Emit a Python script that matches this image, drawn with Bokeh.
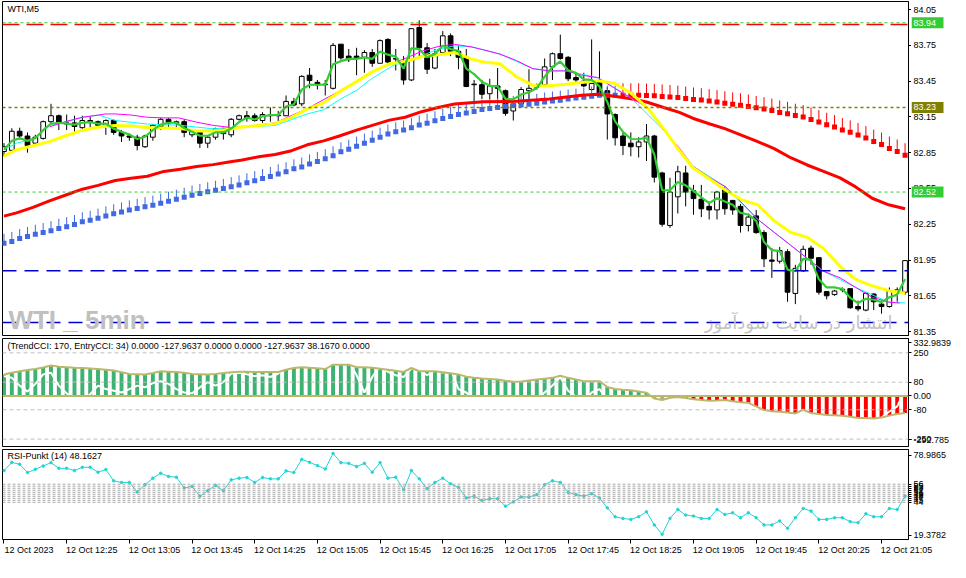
import numpy as np
from bokeh.plotting import figure
from bokeh.models import (Range1d, Span, Label, FixedTicker, ColumnDataSource, LinearAxis)
from bokeh.layouts import column, row
from bokeh.embed import file_html
from bokeh.resources import INLINE
from bokeh.core.properties import value

# ---------------- data ----------------
opens = [82.86, 82.87, 83.03, 82.99, 82.93, 82.97, 83.11, 83.16, 83.10, 83.10,
         83.06, 83.12, 83.11, 83.08, 83.12, 83.02, 82.99, 82.98, 82.90, 82.98,
         83.07, 83.13, 83.10, 83.11, 83.00, 83.02, 82.93, 82.98, 83.05, 83.00,
         83.13, 83.16, 83.16, 83.12, 83.16, 83.16, 83.16, 83.28, 83.26, 83.50,
         83.44, 83.42, 83.39, 83.76, 83.66, 83.66, 83.65, 83.69, 83.60, 83.80,
         83.64, 83.61, 83.46, 83.90, 83.73, 83.56, 83.69, 83.83, 83.70, 83.65,
         83.42, 83.42, 83.345, 83.41, 83.37, 83.20, 83.26, 83.37, 83.40, 83.42,
         83.57, 83.68, 83.65, 83.48, 83.45, 83.38, 83.45, 83.37, 83.17, 82.99,
         82.93, 82.90, 82.94, 82.99, 82.68, 82.24, 82.48, 82.68, 82.53, 82.46,
         82.40, 82.37, 82.54, 82.45, 82.40, 82.24, 82.32, 82.18, 81.95, 81.94,
         82.02, 81.67, 81.86, 82.05, 81.97, 81.685, 81.66, 81.70, 81.71, 81.56,
         81.53, 81.665, 81.58, 81.56, 81.68, 81.68]
highs = [82.93, 83.055, 83.06, 83.02, 83.00, 83.12, 83.26, 83.17, 83.17, 83.16,
         83.16, 83.15, 83.12, 83.13, 83.13, 83.04, 83.01, 83.00, 83.00, 83.09,
         83.14, 83.14, 83.12, 83.13, 83.04, 83.04, 82.99, 83.06, 83.06, 83.14,
         83.17, 83.20, 83.18, 83.19, 83.23, 83.20, 83.33, 83.31, 83.50, 83.56,
         83.46, 83.46, 83.77, 83.76, 83.72, 83.73, 83.71, 83.72, 83.80, 83.81,
         83.72, 83.66, 83.89, 83.96, 83.77, 83.72, 83.87, 83.85, 83.75, 83.72,
         83.46, 83.46, 83.47, 83.56, 83.38, 83.29, 83.40, 83.55, 83.43, 83.64,
         83.69, 83.84, 83.66, 83.52, 83.52, 83.80, 83.70, 83.40, 83.18, 83.02,
         83.02, 82.98, 83.09, 83.00, 82.69, 82.64, 82.74, 82.74, 82.58, 82.58,
         82.44, 82.53, 82.57, 82.45, 82.42, 82.34, 82.37, 82.20, 82.05, 82.06,
         82.04, 81.91, 82.07, 82.07, 81.97, 81.69, 81.70, 81.72, 81.71, 81.61,
         81.68, 81.67, 81.61, 81.72, 81.72, 81.95]
lows = [82.82, 82.86, 82.96, 82.85, 82.92, 82.96, 83.10, 83.04, 83.04, 83.01,
        83.03, 83.05, 83.06, 83.00, 83.00, 82.94, 82.95, 82.87, 82.89, 82.95,
        83.04, 83.06, 83.05, 82.98, 82.98, 82.89, 82.89, 82.96, 82.96, 82.98,
        83.12, 83.11, 83.11, 83.10, 83.11, 83.10, 83.16, 83.24, 83.24, 83.39,
        83.38, 83.33, 83.38, 83.63, 83.61, 83.50, 83.52, 83.57, 83.60, 83.60,
        83.54, 83.42, 83.45, 83.65, 83.51, 83.55, 83.67, 83.66, 83.55, 83.40,
        83.28, 83.30, 83.30, 83.30, 83.16, 83.12, 83.24, 83.28, 83.38, 83.41,
        83.46, 83.63, 83.45, 83.43, 83.40, 83.37, 83.33, 82.96, 82.91, 82.83,
        82.82, 82.81, 82.78, 82.60, 82.23, 82.22, 82.34, 82.40, 82.33, 82.31,
        82.29, 82.29, 82.33, 82.33, 82.18, 82.19, 82.17, 81.89, 81.80, 81.92,
        81.60, 81.58, 81.85, 81.91, 81.66, 81.62, 81.65, 81.68, 81.54, 81.52,
        81.52, 81.53, 81.50, 81.55, 81.60, 81.66]
closes = [82.90, 83.03, 82.99, 82.91, 82.98, 83.11, 83.16, 83.10, 83.09, 83.07,
          83.12, 83.11, 83.08, 83.12, 83.02, 82.99, 82.98, 82.91, 82.99, 83.08,
          83.13, 83.10, 83.11, 83.02, 83.03, 82.93, 82.98, 83.05, 83.01, 83.13,
          83.16, 83.14, 83.12, 83.17, 83.165, 83.165, 83.28, 83.25, 83.49, 83.455,
          83.42, 83.425, 83.75, 83.645, 83.63, 83.64, 83.69, 83.60, 83.79, 83.61,
          83.635, 83.46, 83.89, 83.73, 83.55, 83.68, 83.83, 83.70, 83.65, 83.405,
          83.425, 83.34, 83.41, 83.39, 83.18, 83.26, 83.38, 83.39, 83.41, 83.57,
          83.68, 83.64, 83.47, 83.46, 83.41, 83.43, 83.35, 83.175, 82.975, 82.91,
          82.90, 82.94, 82.99, 82.645, 82.25, 82.52, 82.69, 82.52, 82.465, 82.38,
          82.37, 82.52, 82.38, 82.37, 82.24, 82.31, 82.18, 81.96, 81.94, 82.03,
          81.68, 81.88, 82.04, 81.965, 81.68, 81.65, 81.69, 81.705, 81.55, 81.54,
          81.67, 81.60, 81.56, 81.69, 81.70, 81.945]

# fast green average, one reading per candle
green_ma = [82.875, 82.949, 82.971, 82.949, 82.971, 83.039, 83.093, 83.101, 83.093, 83.085,
            83.101, 83.106, 83.093, 83.093, 83.052, 83.025, 83.003, 82.965, 82.984, 83.039,
            83.085, 83.101, 83.101, 83.057, 83.025, 82.992, 82.992, 83.02, 83.02, 83.052,
            83.106, 83.145, 83.128, 83.155, 83.166, 83.166, 83.237, 83.256, 83.379, 83.42,
            83.42, 83.42, 83.591, 83.618, 83.637, 83.637, 83.65, 83.637, 83.699, 83.672,
            83.656, 83.555, 83.726, 83.718, 83.65, 83.677, 83.746, 83.718, 83.705, 83.555,
            83.509, 83.446, 83.411, 83.406, 83.302, 83.297, 83.338, 83.357, 83.392, 83.487,
            83.569, 83.615, 83.542, 83.52, 83.465, 83.46, 83.406, 83.275, 83.112, 83.025,
            82.965, 82.963, 82.976, 82.835, 82.535, 82.535, 82.604, 82.576, 82.531, 82.476,
            82.427, 82.468, 82.44, 82.413, 82.345, 82.332, 82.278, 82.101, 82.033, 82.025,
            81.87, 81.856, 81.96, 81.951, 81.788, 81.72, 81.72, 81.707, 81.633, 81.589,
            81.625, 81.617, 81.597, 81.638, 81.66, 81.788]

# slow red average (candle position, price)
red_ma_x = [0, 1.6, 3.7, 5.8, 7.9, 10, 12, 14.2, 16.2, 18.3, 20.4, 22.5, 24.6, 26.7, 28.7,
            30.4, 32.5, 34.6, 36.7, 38.7, 40.8, 42.9, 45, 47, 49.2, 51.2, 53.3, 55.4, 57.5,
            61.2, 65.4, 69.6, 73.7, 75.8, 77.9, 80, 82, 84.2, 86.2,
            87.9, 90, 92, 94.1, 96.2, 98.3, 100.4, 102.5, 104.6, 106.7, 108.7, 110.8, 112.9, 115]
red_ma_y = [82.318, 82.345, 82.392, 82.446, 82.495, 82.544, 82.576, 82.617, 82.636, 82.652,
            82.693, 82.712, 82.734, 82.75, 82.772,
            82.788, 82.816, 82.835, 82.867, 82.916, 82.949, 82.992, 83.039, 83.079, 83.123,
            83.147, 83.194, 83.229, 83.259,
            83.278, 83.281, 83.30, 83.332, 83.34, 83.324, 83.302, 83.275, 83.229, 83.188,
            83.139, 83.093, 83.052, 82.998, 82.943, 82.884, 82.808, 82.747, 82.693, 82.639,
            82.563, 82.468, 82.413, 82.38]

yellow_ma_x = [0, 1.6, 3.7, 5.8, 7.9, 10, 12.1, 14.2, 16.2, 18.3, 20.4, 22.5, 24.6, 26.7, 28.7,
               30.4, 32.5, 34.6, 36.7, 38.7, 40.8, 42.9, 45, 47, 49.2, 51.2, 53.3, 55.4, 57.5,
               59.6, 61.2, 63.3, 65.4, 67.5, 69.6, 71.7, 73.7, 75.8, 77.9, 80, 82.1, 84.2,
               85.8, 87.9, 90, 92.1, 94.2, 96.2, 98.3, 100.4, 102.5, 104.6, 106.7, 108.7,
               110.8, 112.9, 115]
yellow_ma_y = [82.821, 82.875, 82.908, 82.943, 82.992, 83.039, 83.066, 83.079, 83.074, 83.061,
               83.057, 83.052, 83.033, 83.033, 83.044,
               83.066, 83.079, 83.093, 83.147, 83.216, 83.27, 83.365, 83.446, 83.528, 83.596,
               83.615, 83.656, 83.672, 83.691,
               83.637, 83.61, 83.596, 83.487, 83.414, 83.411, 83.424, 83.438, 83.454, 83.433,
               83.35, 83.229, 83.052,
               82.902, 82.726, 82.631, 82.535, 82.454, 82.413, 82.278, 82.182, 82.141, 82.046,
               81.897, 81.788, 81.734, 81.693, 81.671]

magenta_ma_x = [5.8, 7.9, 10, 12.1, 12.9, 14.2, 16.2, 18.3, 20.4, 22.3, 24.6, 26.7, 29,
                30.4, 34.6, 38.7, 42.9, 47, 51.2, 53.3, 55.4, 57.5,
                59.6, 61.2, 63.3, 65.4, 67.5, 69.6, 71.7, 73.7, 75.8, 77.9, 80, 82.1, 84.2, 86.2,
                87.9, 90, 92.1, 94.2, 96.2, 98.3, 100.4, 102.5, 104.6, 106.7, 108.7, 110.8,
                112.9, 114.3]
magenta_ma_y = [83.066, 83.112, 83.147, 83.166, 83.175, 83.175, 83.166, 83.147, 83.142, 83.142,
                83.106, 83.079, 83.061,
                83.066, 83.10, 83.22, 83.37, 83.53, 83.64, 83.70, 83.74, 83.759,
                83.738, 83.713, 83.677, 83.623, 83.555, 83.536, 83.536, 83.501, 83.479, 83.392,
                83.31, 83.229, 83.039, 82.889,
                82.739, 82.644, 82.563, 82.427, 82.291, 82.182, 82.074, 81.964, 81.856, 81.801,
                81.72, 81.638, 81.597, 81.589]

cyan_ma_x = [0, 1.6, 3.7, 5.8, 7.9, 10, 12.1, 14.2, 18.3, 22.5, 26.7, 28.7,
             30.4, 32.5, 34.6, 36.7, 38.7, 40.8, 42.9, 45, 47, 49.2, 50, 51.2, 53.3, 55.4, 57.5,
             59.6, 63.3, 67.5, 69.6, 71.7, 75.8, 80, 84.2, 87.9, 92.1, 96.2, 100.4, 104.6,
             108.7, 112.9, 115]
cyan_ma_y = [82.875, 82.93, 82.965, 83.079, 83.106, 83.147, 83.166, 83.12, 83.09, 83.08,
             83.05, 83.06,
             83.071, 83.071, 83.079, 83.128, 83.175, 83.21, 83.297, 83.373, 83.474, 83.563,
             83.591, 83.61, 83.664, 83.718, 83.746,
             83.738, 83.677, 83.555, 83.536, 83.536, 83.479, 83.31, 83.039, 82.739, 82.563,
             82.291, 82.074, 81.856, 81.72, 81.597, 81.59]

# trailing step markers
blue_steps = [82.09, 82.106, 82.13, 82.147, 82.166, 82.18, 82.196, 82.215, 82.23, 82.247,
              82.27, 82.283, 82.30, 82.32, 82.337, 82.353, 82.37, 82.383, 82.397, 82.41,
              82.427, 82.443, 82.46, 82.476, 82.494, 82.508, 82.522, 82.535, 82.55, 82.565,
              82.58, 82.598, 82.615, 82.633, 82.65, 82.672, 82.69, 82.715, 82.73, 82.756,
              82.777, 82.80, 82.824, 82.857, 82.878, 82.905, 82.93, 82.955, 82.98, 83.006,
              83.025, 83.04, 83.06, 83.082, 83.098, 83.118, 83.137, 83.153,
              83.17, 83.183, 83.196, 83.212, 83.22, 83.229, 83.237, 83.245, 83.25, 83.256,
              83.264, 83.275, 83.283, 83.29, 83.30, 83.308, 83.316, 83.324, 83.332, 83.332,
              83.332]
red_steps = [83.332, 83.332, 83.332, 83.330, 83.327, 83.322, 83.318, 83.312, 83.305, 83.297,
             83.291, 83.283, 83.275, 83.265, 83.256, 83.248, 83.238, 83.226, 83.216, 83.204,
             83.188, 83.177, 83.161, 83.149, 83.128, 83.108, 83.085, 83.065, 83.040, 83.021,
             82.999, 82.973, 82.943, 82.919, 82.886, 82.861, 82.829]

# horizontal levels in the price window
lime_levels = [83.94, 82.52]
olive_level = 83.23
red_level = 83.925
blue_levels = [81.86, 81.425]
price_ticks = [84.05, 83.75, 83.45, 83.15, 82.85, 82.55, 82.25, 81.95, 81.65, 81.35]
tag_levels = [83.94, 83.23, 82.52]
tag_kind = ["lime", "olive", "lime"]

# TrendCCI histogram / line, one reading per candle
trend_cci = [124, 135, 143, 150, 156, 165, 177, 170, 167, 164,
             162, 159, 156, 152, 147, 138, 128, 126, 124, 133,
             143, 141, 139, 134, 128, 126, 124, 128, 133, 137,
             141, 140, 139, 139, 139, 139, 152, 162, 167, 163,
             160, 156, 181, 181, 181, 167, 166, 164, 158, 152,
             146, 139, 162, 143, 143, 143, 138, 132, 125, 112,
             105, 101, 98, 95, 88, 82, 84, 90, 95, 100,
             105, 118, 105, 95, 86, 86, 86, 52, 40, 36,
             33, 26, 19, -15, -23, -10, -6, -12, -19, -24,
             -28, -26, -23, -30, -36, -40, -60, -82, -88, -91,
             -96, -101, -80, -99, -105, -110, -112, -114, -120, -127,
             -128, -130, -125, -114, -105, -99]
cci_state = ["up"] * 83 + ["flat", "flat", "turn"] + ["down"] * 30
entry_x = list(range(0, 61)) + [62, 64, 66, 68, 70, 71, 72, 74, 75, 76, 77, 78, 80, 83, 86,
                                90, 94, 97, 100, 104, 108, 111, 113, 114, 115]
entry_cci = [115, 105, 60, 25, 70, 125, 135, 60, 15, -20,
             -30, 10, 60, 40, 30, 20, 40, 60, 50, 75,
             85, 70, 40, 20, 15, 50, 80, 60, 80, 130,
             135, 125, 115, 120, 110, 130, 180, 200, 210, 190,
             195, 200, 210, 190, 200, 120, 20, 110, 175, 140,
             120, 110, 160, 150, 120, 150, 135, 160, 40, 20,
             -30, -60, -40, -10, -20, 60, 110, 30, -40, 20,
             40, -20, -80, -120, -150, -140, -180, -200, -170, -190,
             -200, -180, -160, -90, -60, 38]
cci_levels = [250, 80, -80, -250]
cci_min, cci_max = -292.785, 332.9839
cci_tick_pos = [308, 250, 80, 0, -80, -250, -255]
cci_tick_txt = ["332.9839", "250", "80", "0.00", "-80", "-250", "-292.785"]

# RSI, one reading per candle
rsi = [65.03, 70.47, 69.16, 63.73, 65.89, 68.05, 70.27, 66.54, 66.54, 65.03,
       67.2, 67.2, 63.93, 65.69, 58.23, 57.18, 57.18, 50.83, 55.61, 60.0,
       63.27, 61.11, 60.65, 53.45, 54.56, 48.01, 51.68, 55.21, 51.68, 58.88,
       60.0, 60.45, 57.18, 60.45, 59.54, 59.54, 64.78, 63.73, 72.44, 70.47,
       68.31, 66.09, 76.37, 70.27, 69.82, 67.66, 69.82, 63.93, 70.27, 60.0,
       60.65, 52.33, 65.03, 59.54, 52.99, 57.18, 60.0, 56.26, 53.9, 46.9,
       48.01, 45.13, 46.44, 46.44, 41.46, 44.28, 47.55, 47.55, 49.06, 55.61,
       58.23, 57.18, 50.63, 49.06, 48.01, 49.71, 46.9, 40.35, 34.46, 33.34,
       32.69, 34.46, 37.72, 29.02, 22.86, 33.34, 39.24, 35.57, 34.92, 33.34,
       33.34, 39.24, 35.96, 37.07, 33.80, 37.07, 33.80, 29.02, 29.02, 31.64,
       26.8, 33.80, 39.9, 38.2, 32.69, 32.69, 33.80, 33.80, 31.18, 30.53,
       36.42, 34.46, 34.46, 39.9, 39.24, 48.16]
rsi_levels = [56, 54.67, 53.33, 52, 50.67, 49.33, 48, 46.67, 45.33, 44]
rsi_level_txt = ["56", "55", "53", "52", "51", "49", "48", "47", "45", "44"]
rsi_min, rsi_max = 19.3782, 78.9865
rsi_tick_pos = [75.3] + rsi_levels + [22.2]
rsi_tick_txt = ["78.9865"] + rsi_level_txt + ["19.3782"]

time_tick_idx = [0, 8, 16, 24, 32, 40, 48, 56, 64, 72, 80, 88, 96, 104, 112]
time_tick_txt = ["12 Oct 2023", "12 Oct 12:25", "12 Oct 13:05", "12 Oct 13:45",
                 "12 Oct 14:25", "12 Oct 15:05", "12 Oct 15:45", "12 Oct 16:25",
                 "12 Oct 17:05", "12 Oct 17:45", "12 Oct 18:25", "12 Oct 19:05",
                 "12 Oct 19:45", "12 Oct 20:25", "12 Oct 21:05"]

# ---------------- drawing ----------------
FONT = "Liberation Sans"
FS = "9px"
FW = 906
TAGW = 37
n = len(closes)
idx = np.arange(n)
xr = Range1d(-0.19, 115.44)


def style_axis(ax):
    ax.axis_line_color = "black"
    ax.major_tick_line_color = "black"
    ax.minor_tick_line_color = "black"
    ax.major_tick_in = 0
    ax.minor_tick_in = 0
    ax.major_label_text_font = FONT
    ax.major_label_text_font_size = FS
    ax.major_label_text_color = "black"


def panel(h, yr, top, bottom, right=40):
    p = figure(frame_width=FW, frame_height=h, x_range=xr, y_range=yr,
               output_backend="svg", toolbar_location=None, title=None,
               x_axis_location=None, y_axis_location="right",
               min_border_left=2, min_border_right=right,
               min_border_top=top, min_border_bottom=bottom)
    p.grid.visible = False
    p.outline_line_color = "black"
    p.outline_line_width = 1
    p.background_fill_color = "white"
    p.border_fill_color = "white"
    style_axis(p.yaxis[0])
    return p


# ---- price window ----
p1 = panel(334, Range1d(81.317, 84.118), 1, 1, right=0)
ay = p1.yaxis[0]
ay.ticker = FixedTicker(ticks=[], minor_ticks=price_ticks)
ay.major_tick_out = 0
ay.minor_tick_out = 3
ay.major_label_standoff = 0

for lv in lime_levels:
    p1.add_layout(Span(location=lv, dimension="width", line_color="#32CD32",
                       line_dash="3 3", line_width=1))
p1.add_layout(Span(location=red_level, dimension="width", line_color="#FF0000",
                   line_dash="17 7", line_width=1.5))
p1.add_layout(Span(location=olive_level, dimension="width", line_color="#808000",
                   line_dash="3 3", line_width=1.5))
for lv in blue_levels:
    p1.add_layout(Span(location=lv, dimension="width", line_color="#0000CD",
                       line_dash="14 8", line_width=1.5))

o = np.array(opens); c = np.array(closes)
csrc = ColumnDataSource(dict(
    x=idx, h=highs, l=lows, top=np.maximum(o, c), bot=np.minimum(o, c),
    fill=["white" if cc >= oo else "black" for oo, cc in zip(opens, closes)]))
p1.segment(x0="x", y0="l", x1="x", y1="h", source=csrc, line_color="black", line_width=1)
p1.vbar(x="x", top="top", bottom="bot", width=0.6, fill_color="fill",
        line_color="black", line_width=1, source=csrc)

bx = np.arange(len(blue_steps))
rx = np.arange(len(blue_steps), len(blue_steps) + len(red_steps))
bv = np.array(blue_steps); rv = np.array(red_steps)
p1.segment(x0=bx, y0=bv, x1=bx, y1=bv + 0.08, line_color="#4169E1", line_width=1)
p1.rect(x=bx, y=bv, width=5, height=5, width_units="screen", height_units="screen",
        fill_color="#4169E1", line_color=None)
p1.segment(x0=rx, y0=rv, x1=rx, y1=rv + 0.1, line_color="#FF0000", line_width=1)
p1.rect(x=rx, y=rv, width=5, height=5, width_units="screen", height_units="screen",
        fill_color="#FF0000", line_color=None)

p1.line(red_ma_x, red_ma_y, line_color="#FF0000", line_width=3)
p1.line(cyan_ma_x, cyan_ma_y, line_color="#00FFFF", line_width=1)
p1.line(magenta_ma_x, magenta_ma_y, line_color="#FF00FF", line_width=1)
p1.line(yellow_ma_x, yellow_ma_y, line_color="#FFFF00", line_width=3)
p1.line(idx, green_ma, line_color="#32CD32", line_width=2.2)

p1.add_layout(Label(x=0.44, y=84.054, text="WTI,M5", text_font=FONT, text_font_size=FS,
                    text_baseline="middle", text_align="left", text_color="black"))
p1.add_layout(Label(x=0.56, y=81.322, text="WTI _ 5min", text_font=FONT,
                    text_font_size="26px", text_font_style="bold",
                    text_color="#C0C0C0", text_baseline="bottom", text_align="left"))
p1.add_layout(Label(x=113.4, y=81.43, text="انتشار در سایت سودآموز",
                    text_font="DejaVu Sans", text_font_size="18px",
                    text_color="#C4C4C4", text_baseline="middle", text_align="right"))

# price scale column (tick labels and level tags) drawn on the same y scale
ptag = figure(frame_width=TAGW, frame_height=334, x_range=Range1d(0, TAGW),
              y_range=p1.y_range, output_backend="svg", toolbar_location=None,
              title=None, x_axis_location=None, y_axis_location=None,
              min_border_left=0, min_border_right=0, min_border_top=1, min_border_bottom=1)
ptag.grid.visible = False
ptag.outline_line_color = None
ptag.background_fill_color = "white"
ptag.border_fill_color = "white"
ptag.text(x=2, y=price_ticks, text=["%.2f" % t for t in price_ticks],
          text_font=value(FONT), text_font_size=value(FS), text_color="black",
          text_baseline="middle", text_align="left")
tag_col = {"lime": "#32CD32", "olive": "#808000"}
ptag.rect(x=16, y=tag_levels, width=32, height=11, height_units="screen",
          fill_color=[tag_col[k] for k in tag_kind], line_color=None)
ptag.text(x=2, y=tag_levels, text=["%.2f" % t for t in tag_levels],
          text_font=value(FONT), text_font_size=value(FS), text_color="white",
          text_baseline="middle", text_align="left")

# ---- CCI window ----
p2 = panel(108, Range1d(cci_min, cci_max), 2, 1)
a2 = p2.yaxis[0]
a2.ticker = FixedTicker(ticks=cci_tick_pos)
a2.major_label_overrides = {k: v for k, v in zip(cci_tick_pos, cci_tick_txt)}
a2.major_tick_out = 3
a2.minor_tick_out = 0
a2.major_label_standoff = 2
state_col = {"up": "#3CB371", "flat": "#A9A9A9", "turn": "#FFD700", "down": "#FF0000"}
p2.vbar(x=idx, top=trend_cci, bottom=0, width=0.5,
        fill_color=[state_col[s] for s in cci_state], line_color=None)
p2.line(entry_x, entry_cci, line_color="white", line_width=2)
p2.line(idx, trend_cci, line_color="#BDB76B", line_width=2)
for lv in cci_levels:
    p2.add_layout(Span(location=lv, dimension="width", line_color="#C0C0C0",
                       line_dash="4 3", line_width=1))
p2.add_layout(Span(location=0, dimension="width", line_color="#BDB76B", line_width=2))
p2.add_layout(Label(x=0.44, y=291,
                    text="(TrendCCI: 170, EntryCCI: 34)  0.0000 -127.9637 0.0000 0.0000 -127.9637 38.1670 0.0000",
                    text_font=FONT, text_font_size=FS, text_color="black",
                    text_baseline="middle", text_align="left"))

# ---- RSI window ----
p3 = panel(90, Range1d(rsi_min, rsi_max), 2, 4)
a3 = p3.yaxis[0]
a3.ticker = FixedTicker(ticks=rsi_tick_pos)
a3.major_label_overrides = {k: v for k, v in zip(rsi_tick_pos, rsi_tick_txt)}
a3.major_tick_out = 3
a3.minor_tick_out = 0
a3.major_label_standoff = 2
for lv in rsi_levels:
    p3.add_layout(Span(location=lv, dimension="width", line_color="#A9A9A9",
                       line_dash="3 2", line_width=1))
p3.line(idx, rsi, line_color="#20D5D5", line_width=1)
p3.scatter(idx, rsi, size=2.5, color="#20D5D5")
p3.add_layout(Label(x=0.44, y=74.4, text="RSI-Punkt (14)  48.1627", text_font=FONT,
                    text_font_size=FS, text_color="black", text_baseline="middle",
                    text_align="left"))

# time axis: labels start at their tick (centre shifted by half a label width)
half_label = 3.2
lab_pos = [t + half_label for t in time_tick_idx]
xax = LinearAxis(ticker=FixedTicker(ticks=lab_pos, minor_ticks=time_tick_idx),
                 axis_line_color=None, major_tick_out=0, major_tick_in=0,
                 minor_tick_out=4, minor_tick_in=0, minor_tick_line_color="black",
                 major_label_standoff=1,
                 major_label_overrides={k: v for k, v in zip(lab_pos, time_tick_txt)},
                 major_label_text_font=FONT, major_label_text_font_size=FS,
                 major_label_text_color="black")
p3.add_layout(xax, "below")

lay = column(row(p1, ptag, spacing=0), p2, p3, spacing=0)
open("out.html", "w").write(file_html(lay, INLINE))
